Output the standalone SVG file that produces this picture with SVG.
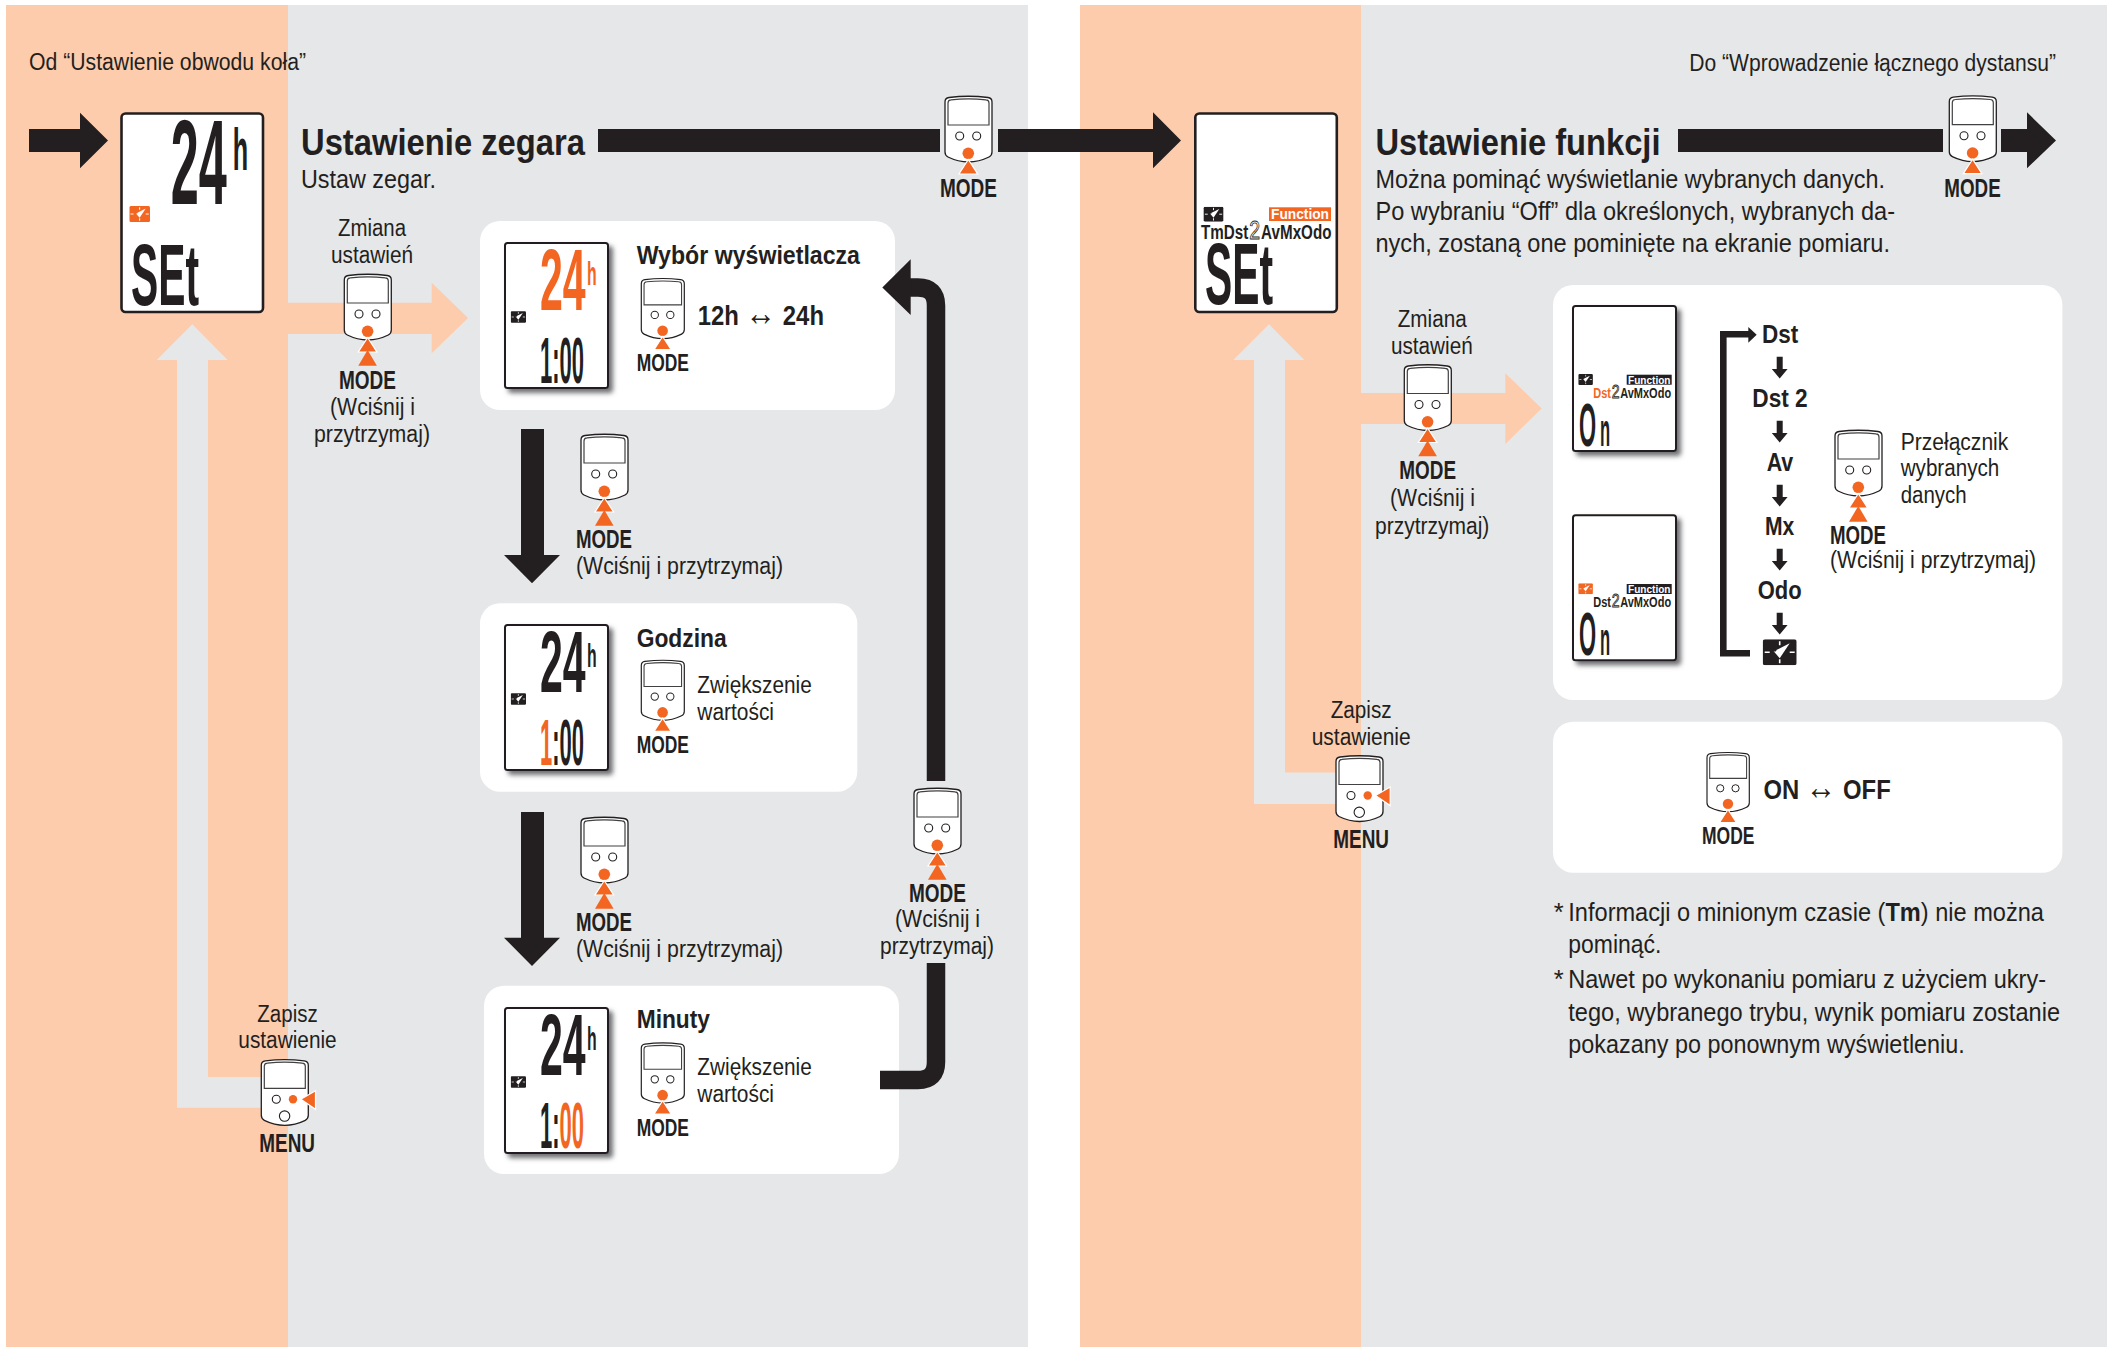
<svg xmlns="http://www.w3.org/2000/svg" width="2107" height="1347" viewBox="0 0 2107 1347">
<style>
text{font-family:"Liberation Sans",Arial,sans-serif;fill:#231f20}
.lab{font-size:23px}
.hdr{font-size:37px;font-weight:700}
.sub{font-size:26px}
.mode{font-size:25px;font-weight:700}
.smode{font-size:23px;font-weight:700}
.ttl{font-size:26px;font-weight:700}
.val{font-size:28px;font-weight:700}
.arr{font-size:36px;font-weight:400}
.flow{font-size:25px;font-weight:700}
.note{font-size:25.5px}
.lcd{font-weight:700}
.or{fill:#f36622}
.pan{fill:#fff}
.scr{fill:#fff;stroke:#231f20;stroke-width:2.6}
.sm{fill:#fff;stroke:#231f20;stroke-width:2;filter:url(#sh)}
.two{font-weight:400;fill:#fff;stroke:#231f20;stroke-width:.7}
.fn{font-weight:700;fill:#fff}
</style>
<defs>
<filter id="sh" x="-20%" y="-20%" width="140%" height="140%"><feDropShadow dx="4" dy="4" stdDeviation="2.400" flood-color="#6d6e71"/></filter>
<g id="dev">
<path d="M0,6Q0,2 4,1.500Q23.500,-1 43,1.500Q47,2 47,6V56Q47,59.500 44,61Q23.500,71 3,61Q0,59.500 0,56Z" fill="#fff" stroke="#231f20" stroke-width="1.300"/>
<path d="M3,29V7Q3,4 6,3.800Q23.500,2 41,3.800Q44,4 44,7V29Z" fill="#fff" stroke="#414042" stroke-width="1.200"/>
<circle cx="14.700" cy="40" r="4" fill="#fff" stroke="#231f20" stroke-width="1.100"/>
<circle cx="31.700" cy="40" r="4" fill="#fff" stroke="#231f20" stroke-width="1.100"/>
<circle cx="23.300" cy="57.300" r="5.800" fill="#f36622"/>
</g>
<polygon id="t1" points="23.300,63.500 14,78 32.600,78" fill="#f36622" stroke="#fff" stroke-width="1.200"/>
<polygon id="t2" points="23.300,76 14,91.700 32.600,91.700" fill="#f36622"/>
<g id="devm">
<path d="M0,6Q0,2 4,1.500Q23.500,-1 43,1.500Q47,2 47,6V56Q47,59.500 44,61Q23.500,71 3,61Q0,59.500 0,56Z" fill="#fff" stroke="#231f20" stroke-width="1.300"/>
<path d="M3,29V7Q3,4 6,3.800Q23.500,2 41,3.800Q44,4 44,7V29Z" fill="#fff" stroke="#414042" stroke-width="1.200"/>
<circle cx="15" cy="40" r="4" fill="#fff" stroke="#231f20" stroke-width="1.100"/>
<circle cx="31.700" cy="40" r="4.200" fill="#f36622"/>
<circle cx="23.300" cy="56.800" r="5.200" fill="#fff" stroke="#231f20" stroke-width="1.100"/>
<polygon points="39.500,40 54.200,31.500 54.200,50" fill="#f36622" stroke="#fff" stroke-width="1.200"/>
</g>
<symbol id="clock" viewBox="0 0 34 26">
<rect width="34" height="26" rx="2.500" fill="currentColor"/>
<path d="M17,2V6M17,20V24M2,13H7M27,13H32" stroke="#fff" stroke-width="1.600"/>
<polygon points="27,4 11,12 17,19" fill="#fff"/>
<polygon points="11,9 14,11 12,13" fill="currentColor"/>
</symbol>
<path id="sd" d="M-3,0H3V12.300H7.900L0,21.700L-7.900,12.300H-3Z" fill="#231f20"/>
</defs>

<g id="background">
<rect x="0" y="0" width="2107" height="1347" fill="#fff"/>
<rect x="6" y="5" width="282" height="1342" fill="#fdccad"/>
<rect x="288" y="5" width="740" height="1342" fill="#e6e7e8"/>
<rect x="1080" y="5" width="281" height="1342" fill="#fdccad"/>
<rect x="1361" y="5" width="746" height="1342" fill="#e6e7e8"/>
</g>

<g id="panels">
<rect class="pan" x="480" y="221" width="415" height="189" rx="20"/>
<rect class="pan" x="480" y="603.300" width="377.300" height="188.400" rx="20"/>
<rect class="pan" x="484" y="985.700" width="415" height="188.300" rx="20"/>
<rect class="pan" x="1553" y="285" width="509.400" height="415" rx="20"/>
<rect class="pan" x="1553" y="721.700" width="509.400" height="151" rx="20"/>
</g>

<g id="connectors" fill="#231f20">
<polygon points="29,129 80,129 80,112.700 108,140.500 80,168.300 80,152 29,152"/>
<rect x="598" y="129" width="342" height="23"/>
<polygon points="998,129 1153,129 1153,112.300 1181,140.500 1153,168.300 1153,152 998,152"/>
<rect x="1678" y="129" width="265" height="23"/>
<polygon points="2001,129 2027,129 2027,112.300 2056,140.500 2027,168.300 2027,152 2001,152"/>
<polygon points="288,302.700 431.700,302.700 431.700,282.700 468,318 431.700,353.300 431.700,334 288,334" fill="#fdccad"/>
<polygon points="1361,392.900 1505.300,392.900 1505.300,373.200 1541.700,408.500 1505.300,444 1505.300,424 1361,424" fill="#fdccad"/>
<polygon points="192.300,324.300 227.700,360 208,360 208,1077 265,1077 265,1107.700 177,1107.700 177,360 156.700,360" fill="#e6e7e8"/>
<polygon points="1269,324.300 1304.300,360 1285,360 1285,772.500 1340,772.500 1340,804 1254,804 1254,360 1233.300,360" fill="#e6e7e8"/>
<polygon points="521,429 544,429 544,555 560,555 532,583.300 504,555 521,555"/>
<polygon points="521,812 544,812 544,937.700 560,937.700 532,966 504,937.700 521,937.700"/>
<path d="M880,1080H918Q936,1080 936,1062V963" fill="none" stroke="#231f20" stroke-width="18.500"/>
<path d="M936,781V305.500Q936,287.500 918,287.500H908" fill="none" stroke="#231f20" stroke-width="18.500"/>
<polygon points="882.300,287.500 910.700,259.300 910.700,315"/>
<path d="M1750,653.300H1723.300V334.300H1750" fill="none" stroke="#231f20" stroke-width="6.600"/>
<polygon points="1756.700,334.800 1748.300,327 1748.300,342.700"/>
<use href="#sd" x="1779.700" y="356.700"/>
<use href="#sd" x="1779.700" y="420.700"/>
<use href="#sd" x="1779.700" y="484.700"/>
<use href="#sd" x="1779.700" y="548.700"/>
<use href="#sd" x="1779.700" y="612.700"/>
</g>

<g id="page-labels">
<text class="lab" x="29" y="70" textLength="277" lengthAdjust="spacingAndGlyphs">Od “Ustawienie obwodu koła”</text>
<text class="lab" x="1689.300" y="71" textLength="366.700" lengthAdjust="spacingAndGlyphs">Do “Wprowadzenie łącznego dystansu”</text>
<text class="hdr" x="301" y="155" textLength="284" lengthAdjust="spacingAndGlyphs">Ustawienie zegara</text>
<text class="sub" x="301" y="188" textLength="135" lengthAdjust="spacingAndGlyphs">Ustaw zegar.</text>
<text class="hdr" x="1375.500" y="155" textLength="285" lengthAdjust="spacingAndGlyphs">Ustawienie funkcji</text>
<text class="sub" x="1375.500" y="188" textLength="509.500" lengthAdjust="spacingAndGlyphs">Można pominąć wyświetlanie wybranych danych.</text>
<text class="sub" x="1375.500" y="220" textLength="519.500" lengthAdjust="spacingAndGlyphs">Po wybraniu “Off” dla określonych, wybranych da-</text>
<text class="sub" x="1375.500" y="252" textLength="514.500" lengthAdjust="spacingAndGlyphs">nych, zostaną one pominięte na ekranie pomiaru.</text>
</g>

<g id="lcd-main-left">
<rect class="scr" x="121.500" y="113.500" width="141.500" height="198.500" rx="4"/>
<text class="lcd" font-size="50.400" transform="translate(170.700,204) scale(1,2.380)">24<tspan font-size="25.200" dx="6" dy="-14.300">h</tspan></text>
<use href="#clock" x="129.300" y="206" width="20.700" height="16" style="color:#f36622"/>
<text class="lcd" font-size="40.800" transform="translate(131,305) scale(1,2.157)">SEt</text>
</g>

<g id="lcd-main-right">
<rect class="scr" x="1195.300" y="113.500" width="141.500" height="198.500" rx="4"/>
<use href="#clock" x="1203" y="206.700" width="21" height="15" style="color:#231f20"/>
<rect x="1269" y="207.300" width="62" height="13.700" fill="#f36622"/>
<text class="fn" x="1271" y="219.300" font-size="15" textLength="58" lengthAdjust="spacingAndGlyphs">Function</text>
<text font-size="15.200" font-weight="700" transform="translate(1201,239.300) scale(1,1.350)">TmDst<tspan class="two" font-size="19.500" dx="1">2</tspan><tspan dx="1">AvMxOdo</tspan></text>
<text class="lcd" font-size="40.800" transform="translate(1205,304) scale(1,2.157)">SEt</text>
</g>

<g id="node-zmiana-left">
<text class="lab" x="338" y="236" textLength="68" lengthAdjust="spacingAndGlyphs">Zmiana</text>
<text class="lab" x="331" y="263" textLength="82" lengthAdjust="spacingAndGlyphs">ustawień</text>
<use href="#dev" x="344.300" y="274"/><use href="#t1" x="344.300" y="274"/><use href="#t2" x="344.300" y="274"/>
<text class="mode" x="339" y="389" textLength="57" lengthAdjust="spacingAndGlyphs">MODE</text>
<text class="lab" x="330" y="415" textLength="85" lengthAdjust="spacingAndGlyphs">(Wciśnij i</text>
<text class="lab" x="314" y="442" textLength="116" lengthAdjust="spacingAndGlyphs">przytrzymaj)</text>
</g>

<g id="node-mode-top-left">
<use href="#dev" x="945" y="96"/><use href="#t1" x="945" y="96"/>
<text class="mode" x="940" y="196.700" textLength="57" lengthAdjust="spacingAndGlyphs">MODE</text>
</g>
<g id="node-mode-top-right">
<use href="#dev" x="1949.300" y="95.700"/><use href="#t1" x="1949.300" y="95.700"/>
<text class="mode" x="1944.300" y="196.700" textLength="56.400" lengthAdjust="spacingAndGlyphs">MODE</text>
</g>

<g id="panel-display">
<g transform="translate(504,242)">
<rect class="sm" x="1" y="1" width="103" height="145" rx="2.500"/>
<text class="lcd or" font-size="41" transform="translate(36,68) scale(1,2.146)">24<tspan font-size="15.800" dx="1.500" dy="-11.650">h</tspan></text>
<use href="#clock" x="6.700" y="69" width="15.300" height="12" style="color:#231f20"/>
<text class="lcd" font-size="22" transform="translate(36,141) scale(1,2.955)">1:00</text>
</g>
<text class="ttl" x="636.700" y="264.300" textLength="223.300" lengthAdjust="spacingAndGlyphs">Wybór wyświetlacza</text>
<g transform="translate(641.300,278.300) scale(.915)"><use href="#dev"/><use href="#t1"/></g>
<text class="smode" x="636.700" y="370.700" textLength="52.300" lengthAdjust="spacingAndGlyphs">MODE</text>
<text class="val" x="697.700" y="325" textLength="126.300" lengthAdjust="spacingAndGlyphs">12h <tspan class="arr">↔</tspan> 24h</text>
</g>

<g id="panel-hour">
<g transform="translate(504,624)">
<rect class="sm" x="1" y="1" width="103" height="145" rx="2.500"/>
<text class="lcd" font-size="41" transform="translate(36,68) scale(1,2.146)">24<tspan font-size="15.800" dx="1.500" dy="-11.650">h</tspan></text>
<use href="#clock" x="6.700" y="69" width="15.300" height="12" style="color:#231f20"/>
<text class="lcd" font-size="22" transform="translate(36,141) scale(1,2.955)"><tspan class="or">1</tspan>:00</text>
</g>
<text class="ttl" x="636.700" y="646.700" textLength="90" lengthAdjust="spacingAndGlyphs">Godzina</text>
<g transform="translate(641.300,660) scale(.915)"><use href="#dev"/><use href="#t1"/></g>
<text class="smode" x="636.700" y="752.700" textLength="52.300" lengthAdjust="spacingAndGlyphs">MODE</text>
<text class="lab" x="697.300" y="692.700" textLength="114.400" lengthAdjust="spacingAndGlyphs">Zwiększenie</text>
<text class="lab" x="697.300" y="720" textLength="76.700" lengthAdjust="spacingAndGlyphs">wartości</text>
</g>

<g id="panel-minute">
<g transform="translate(504,1007)">
<rect class="sm" x="1" y="1" width="103" height="145" rx="2.500"/>
<text class="lcd" font-size="41" transform="translate(36,68) scale(1,2.146)">24<tspan font-size="15.800" dx="1.500" dy="-11.650">h</tspan></text>
<use href="#clock" x="6.700" y="69" width="15.300" height="12" style="color:#231f20"/>
<text class="lcd" font-size="22" transform="translate(36,141) scale(1,2.955)">1:<tspan class="or">00</tspan></text>
</g>
<text class="ttl" x="636.700" y="1028.300" textLength="73.300" lengthAdjust="spacingAndGlyphs">Minuty</text>
<g transform="translate(641.300,1042.700) scale(.915)"><use href="#dev"/><use href="#t1"/></g>
<text class="smode" x="636.700" y="1136" textLength="52.300" lengthAdjust="spacingAndGlyphs">MODE</text>
<text class="lab" x="697.300" y="1075" textLength="114.400" lengthAdjust="spacingAndGlyphs">Zwiększenie</text>
<text class="lab" x="697.300" y="1101.700" textLength="76.700" lengthAdjust="spacingAndGlyphs">wartości</text>
</g>

<g id="node-hold-1">
<use href="#dev" x="581" y="434"/><use href="#t1" x="581" y="434"/><use href="#t2" x="581" y="434"/>
<text class="mode" x="576" y="548" textLength="56" lengthAdjust="spacingAndGlyphs">MODE</text>
<text class="lab" x="576" y="574" textLength="207" lengthAdjust="spacingAndGlyphs">(Wciśnij i przytrzymaj)</text>
</g>
<g id="node-hold-2">
<use href="#dev" x="581" y="817"/><use href="#t1" x="581" y="817"/><use href="#t2" x="581" y="817"/>
<text class="mode" x="576" y="931" textLength="56" lengthAdjust="spacingAndGlyphs">MODE</text>
<text class="lab" x="576" y="957" textLength="207" lengthAdjust="spacingAndGlyphs">(Wciśnij i przytrzymaj)</text>
</g>
<g id="node-hold-3">
<use href="#dev" x="914" y="788"/><use href="#t1" x="914" y="788"/><use href="#t2" x="914" y="788"/>
<text class="mode" x="909" y="902" textLength="57" lengthAdjust="spacingAndGlyphs">MODE</text>
<text class="lab" x="895" y="927" textLength="85" lengthAdjust="spacingAndGlyphs">(Wciśnij i</text>
<text class="lab" x="880" y="954" textLength="114" lengthAdjust="spacingAndGlyphs">przytrzymaj)</text>
</g>

<g id="node-save-left">
<text class="lab" x="257.300" y="1021.700" textLength="60.400" lengthAdjust="spacingAndGlyphs">Zapisz</text>
<text class="lab" x="238.300" y="1048.300" textLength="98.400" lengthAdjust="spacingAndGlyphs">ustawienie</text>
<use href="#devm" x="261.300" y="1059.300"/>
<text class="mode" x="259.300" y="1151.700" textLength="55.700" lengthAdjust="spacingAndGlyphs">MENU</text>
</g>
<g id="node-save-right">
<text class="lab" x="1330.700" y="717.900" textLength="61" lengthAdjust="spacingAndGlyphs">Zapisz</text>
<text class="lab" x="1311.700" y="744.600" textLength="99" lengthAdjust="spacingAndGlyphs">ustawienie</text>
<use href="#devm" x="1336" y="755.500"/>
<text class="mode" x="1333.300" y="847.500" textLength="55.700" lengthAdjust="spacingAndGlyphs">MENU</text>
</g>

<g id="node-zmiana-right">
<text class="lab" x="1397.700" y="326.800" textLength="69" lengthAdjust="spacingAndGlyphs">Zmiana</text>
<text class="lab" x="1391" y="353.600" textLength="81.700" lengthAdjust="spacingAndGlyphs">ustawień</text>
<use href="#dev" x="1404.300" y="364.500"/><use href="#t1" x="1404.300" y="364.500"/><use href="#t2" x="1404.300" y="364.500"/>
<text class="mode" x="1399.300" y="478.600" textLength="56.700" lengthAdjust="spacingAndGlyphs">MODE</text>
<text class="lab" x="1390" y="506" textLength="85" lengthAdjust="spacingAndGlyphs">(Wciśnij i</text>
<text class="lab" x="1375" y="534" textLength="114.300" lengthAdjust="spacingAndGlyphs">przytrzymaj)</text>
</g>

<g id="panel-functions">
<g transform="translate(1572,305)">
<rect class="sm" x="1" y="1" width="103" height="145" rx="2.500"/>
<use href="#clock" x="6" y="69" width="15.300" height="11" style="color:#231f20"/>
<rect x="54.700" y="69.700" width="45" height="10" fill="#231f20"/>
<text class="fn" x="56" y="78.500" font-size="10" textLength="42.500" lengthAdjust="spacingAndGlyphs">Function</text>
<text font-size="11" font-weight="700" transform="translate(21.300,92.700) scale(1,1.320)"><tspan class="or">Dst</tspan><tspan class="two" font-size="14" dx=".7">2</tspan><tspan dx=".7">AvMxOdo</tspan></text>
<text class="lcd" font-size="22" transform="translate(7,140.700) scale(1,2.770)">O<tspan font-size="16.600" dx="4">n</tspan></text>
</g>
<g transform="translate(1572,514.300)">
<rect class="sm" x="1" y="1" width="103" height="145" rx="2.500"/>
<use href="#clock" x="6" y="69" width="15.300" height="11" style="color:#f36622"/>
<rect x="54.700" y="69.700" width="45" height="10" fill="#231f20"/>
<text class="fn" x="56" y="78.500" font-size="10" textLength="42.500" lengthAdjust="spacingAndGlyphs">Function</text>
<text font-size="11" font-weight="700" transform="translate(21.300,92.700) scale(1,1.320)">Dst<tspan class="two" font-size="14" dx=".7">2</tspan><tspan dx=".7">AvMxOdo</tspan></text>
<text class="lcd" font-size="22" transform="translate(7,140.700) scale(1,2.770)">O<tspan font-size="16.600" dx="4">n</tspan></text>
</g>
<text class="flow" x="1762" y="342.700" textLength="36.300" lengthAdjust="spacingAndGlyphs">Dst</text>
<text class="flow" x="1752.300" y="406.700" textLength="55.400" lengthAdjust="spacingAndGlyphs">Dst 2</text>
<text class="flow" x="1766.700" y="470.700" textLength="26.600" lengthAdjust="spacingAndGlyphs">Av</text>
<text class="flow" x="1765" y="534.700" textLength="29.300" lengthAdjust="spacingAndGlyphs">Mx</text>
<text class="flow" x="1757.700" y="598.700" textLength="44" lengthAdjust="spacingAndGlyphs">Odo</text>
<use href="#clock" x="1762.700" y="639.300" width="34" height="26" style="color:#231f20"/>
<use href="#dev" x="1835" y="430"/><use href="#t1" x="1835" y="430"/><use href="#t2" x="1835" y="430"/>
<text class="lab" x="1900.700" y="450" textLength="107.600" lengthAdjust="spacingAndGlyphs">Przełącznik</text>
<text class="lab" x="1900.700" y="476" textLength="98.600" lengthAdjust="spacingAndGlyphs">wybranych</text>
<text class="lab" x="1900.700" y="502.700" textLength="66" lengthAdjust="spacingAndGlyphs">danych</text>
<text class="mode" x="1830" y="544" textLength="56" lengthAdjust="spacingAndGlyphs">MODE</text>
<text class="lab" x="1830" y="567.700" textLength="206" lengthAdjust="spacingAndGlyphs">(Wciśnij i przytrzymaj)</text>
</g>

<g id="panel-onoff">
<g transform="translate(1707,752.300) scale(.9)"><use href="#dev"/><use href="#t1"/></g>
<text class="smode" x="1702" y="844.300" textLength="52.500" lengthAdjust="spacingAndGlyphs">MODE</text>
<text class="val" x="1763.400" y="799" textLength="127.300" lengthAdjust="spacingAndGlyphs">ON <tspan class="arr">↔</tspan> OFF</text>
</g>

<g id="notes">
<text class="note" x="1553.800" y="921">*</text>
<text class="note" x="1568.300" y="921" textLength="475.700" lengthAdjust="spacingAndGlyphs">Informacji o minionym czasie (<tspan font-weight="700">Tm</tspan>) nie można</text>
<text class="note" x="1568.300" y="953.300" textLength="93.100" lengthAdjust="spacingAndGlyphs">pominąć.</text>
<text class="note" x="1553.800" y="988.300">*</text>
<text class="note" x="1568.300" y="988.300" textLength="477.700" lengthAdjust="spacingAndGlyphs">Nawet po wykonaniu pomiaru z użyciem ukry-</text>
<text class="note" x="1568.300" y="1021" textLength="491.700" lengthAdjust="spacingAndGlyphs">tego, wybranego trybu, wynik pomiaru zostanie</text>
<text class="note" x="1568.300" y="1052.700" textLength="396.500" lengthAdjust="spacingAndGlyphs">pokazany po ponownym wyświetleniu.</text>
</g>
</svg>
